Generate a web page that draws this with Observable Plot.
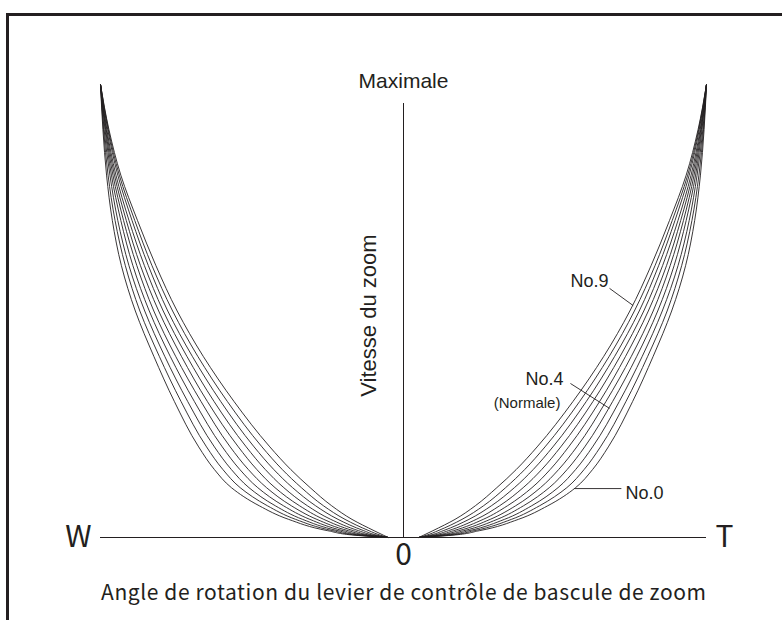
<!DOCTYPE html>
<html><head><meta charset="utf-8">
<script src="https://cdn.jsdelivr.net/npm/d3@7"></script>
<script src="https://cdn.jsdelivr.net/npm/@observablehq/plot@0.6"></script>
<style>
html,body{margin:0;padding:0;background:#fff;overflow:hidden;}
#wrap{position:relative;width:782px;height:620px;overflow:hidden;background:#fff;}
#frame{position:absolute;left:6px;top:13px;width:900px;height:900px;border:3px solid #231f20;box-sizing:border-box;}
#chart{position:absolute;left:0;top:0;}
</style></head><body>
<div id="wrap"><div id="frame"></div><div id="chart"></div></div>
<script>
// speed levels (% of maximum) at which each curve's lever angle (% of full travel) was read
const speedLevels = [0, 0.5, 1.5, 4, 7, 11, 15, 20, 30, 40, 50, 60, 70, 80, 90, 100];
const curveNames = ["No.0","No.1","No.2","No.3","No.4","No.5","No.6","No.7","No.8","No.9"];
const angleNo9 = [5, 6.6, 9.7, 17.0, 23.7, 30.8, 37.2, 44.1, 55.9, 66.1, 74.7, 81.7, 87.8, 93.3, 97.2, 100];
const angleNo8 = [5, 7.6, 11.4, 19.3, 26.4, 33.7, 40.0, 46.7, 58.1, 67.9, 76.2, 83.0, 88.7, 93.8, 97.4, 100];
const angleNo7 = [5, 8.7, 13.1, 21.6, 29.0, 36.6, 42.8, 49.3, 60.3, 69.7, 77.8, 84.2, 89.6, 94.3, 97.6, 100];
const angleNo6 = [5, 9.7, 14.8, 24.0, 31.7, 39.5, 45.6, 51.9, 62.5, 71.5, 79.3, 85.5, 90.6, 94.9, 97.9, 100];
const angleNo5 = [5, 10.8, 16.5, 26.3, 34.3, 42.4, 48.4, 54.5, 64.7, 73.3, 80.8, 86.8, 91.5, 95.4, 98.1, 100];
const angleNo4 = [5, 11.8, 18.2, 28.6, 37.0, 45.2, 51.2, 57.2, 66.8, 75.2, 82.4, 88.0, 92.4, 95.9, 98.3, 100];
const angleNo3 = [5, 12.9, 19.9, 30.9, 39.6, 48.1, 54.0, 59.8, 69.0, 77.0, 83.9, 89.3, 93.3, 96.4, 98.5, 100];
const angleNo2 = [5, 13.9, 21.6, 33.3, 42.3, 51.0, 56.8, 62.4, 71.2, 78.8, 85.4, 90.6, 94.3, 96.9, 98.8, 100];
const angleNo1 = [5, 15.0, 23.3, 35.6, 44.9, 53.9, 59.6, 65.0, 73.4, 80.6, 87.0, 91.8, 95.2, 97.5, 99.0, 100];
const angleNo0 = [5, 16.0, 25.0, 37.9, 47.6, 56.8, 62.4, 67.6, 75.6, 82.4, 88.5, 93.1, 96.1, 98.0, 99.2, 100];
const sideLabels = ["W", "T"];
const originLabel = "0";
const yTopLabel = "Maximale";
const yTitle = "Vitesse du zoom";
const xTitle = "Angle de rotation du levier de contrôle de bascule de zoom";
const axisTopSpeed = 95.8;
const calloutNames = ["No.9", "No.4", "No.0"];
const calloutNote = "(Normale)";

const angleSets = [angleNo0, angleNo1, angleNo2, angleNo3, angleNo4, angleNo5, angleNo6, angleNo7, angleNo8, angleNo9];
const rows = [];
curveNames.forEach((name, i) => {
  for (const side of [-1, 1]) {
    angleSets[i].forEach((a, j) => rows.push({key: name + side, angle: side * a, speed: speedLevels[j]}));
  }
});

const ink = "#231f20";
const sans = "'Liberation Sans', Arial, sans-serif";
const jp = "'Noto Sans CJK JP', 'DejaVu Sans', sans-serif";

const chart = Plot.plot({
  width: 782, height: 620,
  marginLeft: 100, marginRight: 76, marginTop: 84, marginBottom: 83,
  x: {domain: [-100, 100], axis: null},
  y: {domain: [0, 100], axis: null},
  style: {background: "transparent"},
  marks: [
    Plot.ruleY([0], {stroke: ink, strokeWidth: 1}),
    Plot.ruleX([0], {y1: 0, y2: axisTopSpeed, stroke: ink, strokeWidth: 1}),
    Plot.line(rows, {x: "angle", y: "speed", z: "key", curve: "monotone-y", stroke: ink, strokeWidth: 0.9}),
    Plot.text([sideLabels[0]], {x: -100, y: 0, text: d => d, textAnchor: "end", dx: -9, lineAnchor: "middle", fontSize: 30, fontFamily: jp, fill: ink}),
    Plot.text([sideLabels[1]], {x: 100, y: 0, text: d => d, textAnchor: "start", dx: 9, lineAnchor: "middle", fontSize: 30, fontFamily: jp, fill: ink}),
    Plot.text([originLabel], {x: 0, y: 0, text: d => d, lineAnchor: "top", dy: 6, fontSize: 30, fontFamily: jp, fill: ink}),
    Plot.text([xTitle], {x: 0, y: 0, text: d => d, lineAnchor: "bottom", dy: 62, fontSize: 21, fontFamily: jp, fill: ink}),
    Plot.text([yTopLabel], {x: 0, y: 100, text: d => d, lineAnchor: "bottom", dy: 3, fontSize: 21, fontFamily: sans, fill: ink}),
    Plot.text([yTitle], {x: 0, y: 49, text: d => d, rotate: -90, lineAnchor: "bottom", dx: -28, fontSize: 22, fontFamily: sans, fill: ink}),
    Plot.text([calloutNames[0]], {x: 67.7, y: 55.2, text: d => d, textAnchor: "end", lineAnchor: "bottom", fontSize: 18, fontFamily: sans, fill: ink}),
    Plot.text([calloutNames[1]], {x: 52.8, y: 33.6, text: d => d, textAnchor: "end", lineAnchor: "bottom", fontSize: 18, fontFamily: sans, fill: ink}),
    Plot.text([calloutNote], {x: 51.8, y: 28.5, text: d => d, textAnchor: "end", lineAnchor: "bottom", fontSize: 15, fontFamily: sans, fill: ink}),
    Plot.text([calloutNames[2]], {x: 73.3, y: 8.4, text: d => d, textAnchor: "start", lineAnchor: "bottom", fontSize: 18, fontFamily: sans, fill: ink}),
    Plot.link([{a: 68, b: 55, c: 75.8, d: 51.2}, {a: 55.1, b: 34, c: 68, d: 28.5}, {a: 56.4, b: 10.8, c: 71.9, d: 10.8}],
      {x1: "a", y1: "b", x2: "c", y2: "d", stroke: ink, strokeWidth: 0.9})
  ]
});
document.getElementById("chart").appendChild(chart);
d3.select(chart).selectAll("text").filter(function() { return this.textContent === xTitle; })
  .attr("textLength", 605).attr("lengthAdjust", "spacing");
</script>
</body></html>
